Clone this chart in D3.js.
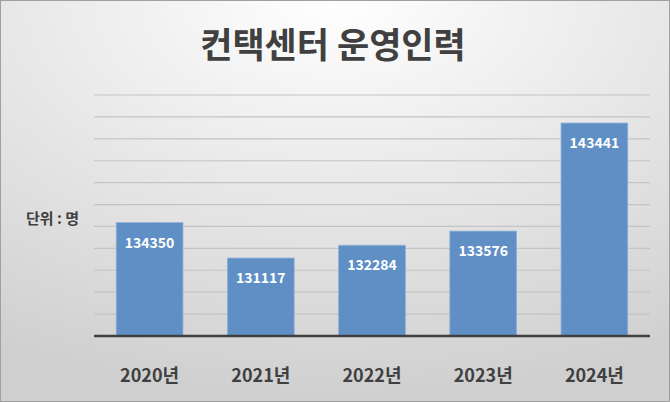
<!DOCTYPE html>
<html><head><meta charset="utf-8">
<script src="https://cdn.jsdelivr.net/npm/d3@7"></script>
<style>body{margin:0}svg{display:block;font-family:"Noto Sans CJK KR","Noto Sans",sans-serif}</style>
</head><body><svg id="c" width="670" height="402"></svg>
<script>
const years = ["2020년", "2021년", "2022년", "2023년", "2024년"];
const staff = [134350, 131117, 132284, 133576, 143441];
const gridTicks = d3.range(124000, 146001, 2000);

const svg = d3.select("#c");
const defs = svg.append("defs");
const g = defs.append("radialGradient").attr("id", "bg")
  .attr("cx", "50%").attr("cy", "0%").attr("r", "100%");
g.append("stop").attr("offset", "0%").attr("stop-color", "#ffffff");
g.append("stop").attr("offset", "100%").attr("stop-color", "#cfcfcf");
svg.append("rect").attr("x", 0.5).attr("y", 0.5).attr("width", 669).attr("height", 401)
  .attr("fill", "url(#bg)").attr("stroke", "#a0a0a0");

const x = d3.scaleBand().domain(years).range([94, 650]).paddingInner(0.4).paddingOuter(0.2);
const y = d3.scaleLinear().domain([124000, 146000]).range([336, 95]);

svg.append("g").selectAll("line").data(gridTicks.slice(1)).join("line")
  .attr("x1", 94).attr("x2", 650).attr("y1", d => y(d)).attr("y2", d => y(d))
  .attr("stroke", "#c4c4c4").attr("stroke-width", 1.2);

svg.append("g").selectAll("rect").data(staff).join("rect")
  .attr("x", (d, i) => x(years[i])).attr("width", x.bandwidth())
  .attr("y", d => y(d)).attr("height", d => y.range()[0] - y(d))
  .attr("fill", "#5f8fc5").attr("stroke", "#8fb0d8").attr("stroke-width", 0.8);

svg.append("g").selectAll("text").data(staff).join("text")
  .attr("x", (d, i) => x(years[i]) + x.bandwidth() / 2).attr("y", d => y(d) + 25)
  .attr("text-anchor", "middle").attr("fill", "#fff").attr("font-weight", "bold")
  .attr("font-size", 14).text(d => d);

svg.append("line").attr("x1", 94).attr("x2", 650).attr("y1", 336).attr("y2", 336)
  .attr("stroke", "#404040").attr("stroke-width", 2.5);

svg.append("g").selectAll("text").data(years).join("text")
  .attr("x", d => x(d) + x.bandwidth() / 2).attr("y", 382)
  .attr("text-anchor", "middle").attr("fill", "#404040").attr("font-weight", "bold")
  .attr("font-size", 18).text(d => d);

svg.append("text").attr("x", 333).attr("y", 58).attr("text-anchor", "middle")
  .attr("font-size", 35).attr("font-weight", "bold").attr("fill", "#404040")
  .text("컨택센터 운영인력");

svg.append("text").attr("x", 26).attr("y", 224).attr("font-size", 15)
  .attr("font-weight", "bold").attr("fill", "#404040").text("단위 : 명");
</script></body></html>
